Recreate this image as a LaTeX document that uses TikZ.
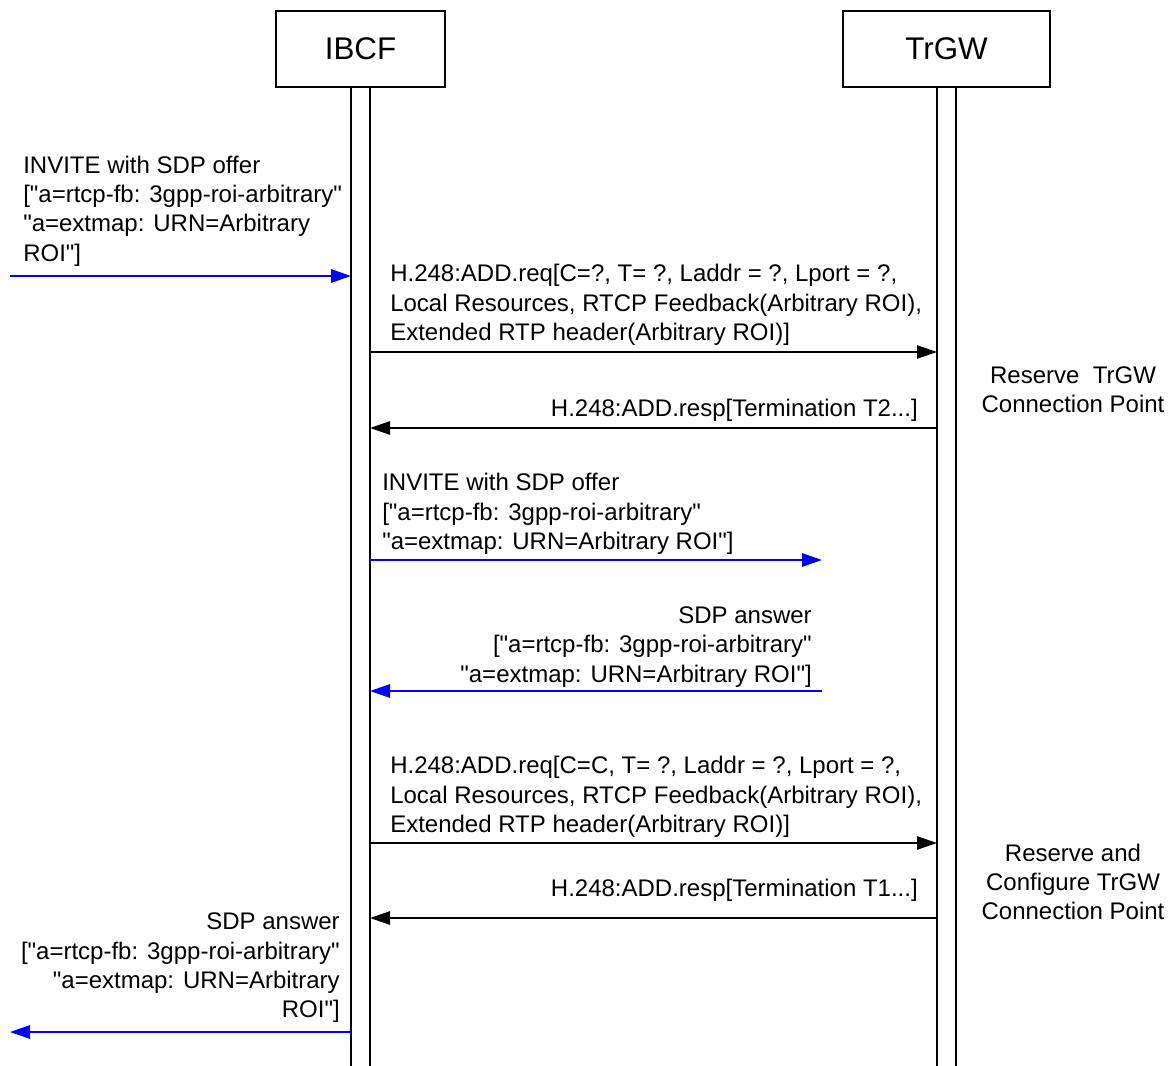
\documentclass[tikz,border=0pt]{standalone}
\usepackage{fontspec}
\setmainfont{Liberation Sans}[Ligatures=TeXOff]
\usetikzlibrary{arrows.meta}
\definecolor{msgblue}{RGB}{0,0,255}
\begin{document}
\begin{tikzpicture}[x=0.75pt,y=-0.75pt,
  entity/.style={draw, line width=0.8pt, inner sep=0pt, minimum height=57pt,
    font=\fontsize{23.5}{28}\selectfont},
  life/.style={line width=0.9pt},
  lbl/.style={inner sep=0pt, font=\fontsize{18}{22}\selectfont},
  kmsg/.style={line width=1.1pt, -{Triangle[length=15pt,width=10pt]}},
  bmsg/.style={line width=1.4pt, color=msgblue, -{Triangle[length=15pt,width=10pt]}}]
\useasboundingbox (0,0) rectangle (1171,1066);

% entities
\node[entity, minimum width=126.75pt] (ibcf) at (360.5,49) {IBCF};
\node[entity, minimum width=155.25pt] (trgw) at (946.5,49) {TrGW};

% lifelines
\coordinate (ibA) at (351,87);  \coordinate (ibAe) at (351,1066);
\coordinate (ibB) at (370,87);  \coordinate (ibBe) at (370,1066);
\coordinate (trA) at (937,87);  \coordinate (trAe) at (937,1066);
\coordinate (trB) at (956,87);  \coordinate (trBe) at (956,1066);
\draw[life] (ibA) -- (ibAe);
\draw[life] (ibB) -- (ibBe);
\draw[life] (trA) -- (trAe);
\draw[life] (trB) -- (trBe);

% message 1
\coordinate (m1s) at (10,276);   \coordinate (m1e) at (351,276);
\draw[bmsg] (m1s) -- (m1e);
\node[lbl, anchor=west, align=left] (t1) at (23,211) {INVITE with SDP offer\\\relax["a=rtcp-fb: 3gpp-roi-arbitrary"\\"a=extmap: URN=Arbitrary\\ROI"]};

% message 2
\coordinate (m2s) at (370,352);  \coordinate (m2e) at (937,352);
\draw[kmsg] (m2s) -- (m2e);
\node[lbl, anchor=west, align=left] (t2) at (390,305) {H.248:ADD.req[C=?, T= ?, Laddr = ?, Lport = ?,\\Local Resources, RTCP Feedback(Arbitrary ROI),\\Extended RTP header(Arbitrary ROI)]};

% message 3
\coordinate (m3s) at (937,428);  \coordinate (m3e) at (370,428);
\draw[kmsg] (m3s) -- (m3e);
\node[lbl, anchor=east] (t3) at (918,410) {H.248:ADD.resp[Termination T2...]};

\node[lbl, align=center] (r1) at (1073,390) {Reserve\ \ TrGW\\Connection Point};

% message 4
\coordinate (m4s) at (370,560);  \coordinate (m4e) at (822,560);
\draw[bmsg] (m4s) -- (m4e);
\node[lbl, anchor=west, align=left] (t4) at (382,514) {INVITE with SDP offer\\\relax["a=rtcp-fb: 3gpp-roi-arbitrary"\\"a=extmap: URN=Arbitrary ROI"]};

% message 5
\coordinate (m5s) at (822,691);  \coordinate (m5e) at (370,691);
\draw[bmsg] (m5s) -- (m5e);
\node[lbl, anchor=east, align=right] (t5) at (812,647) {SDP answer\\\relax["a=rtcp-fb: 3gpp-roi-arbitrary"\\"a=extmap: URN=Arbitrary ROI"]};

% message 6
\coordinate (m6s) at (370,843);  \coordinate (m6e) at (937,843);
\draw[kmsg] (m6s) -- (m6e);
\node[lbl, anchor=west, align=left] (t6) at (390,797) {H.248:ADD.req[C=C, T= ?, Laddr = ?, Lport = ?,\\Local Resources, RTCP Feedback(Arbitrary ROI),\\Extended RTP header(Arbitrary ROI)]};

% message 7
\coordinate (m7s) at (937,918);  \coordinate (m7e) at (370,918);
\draw[kmsg] (m7s) -- (m7e);
\node[lbl, anchor=east] (t7) at (918,890) {H.248:ADD.resp[Termination T1...]};

\node[lbl, align=center] (r2) at (1073,882) {Reserve and\\Configure TrGW\\Connection Point};

% message 8
\coordinate (m8s) at (351,1032); \coordinate (m8e) at (10,1032);
\draw[bmsg] (m8s) -- (m8e);
\node[lbl, anchor=east, align=right] (t8) at (340,968) {SDP answer\\\relax["a=rtcp-fb: 3gpp-roi-arbitrary"\\"a=extmap: URN=Arbitrary\\ROI"]};
\end{tikzpicture}
\end{document}
